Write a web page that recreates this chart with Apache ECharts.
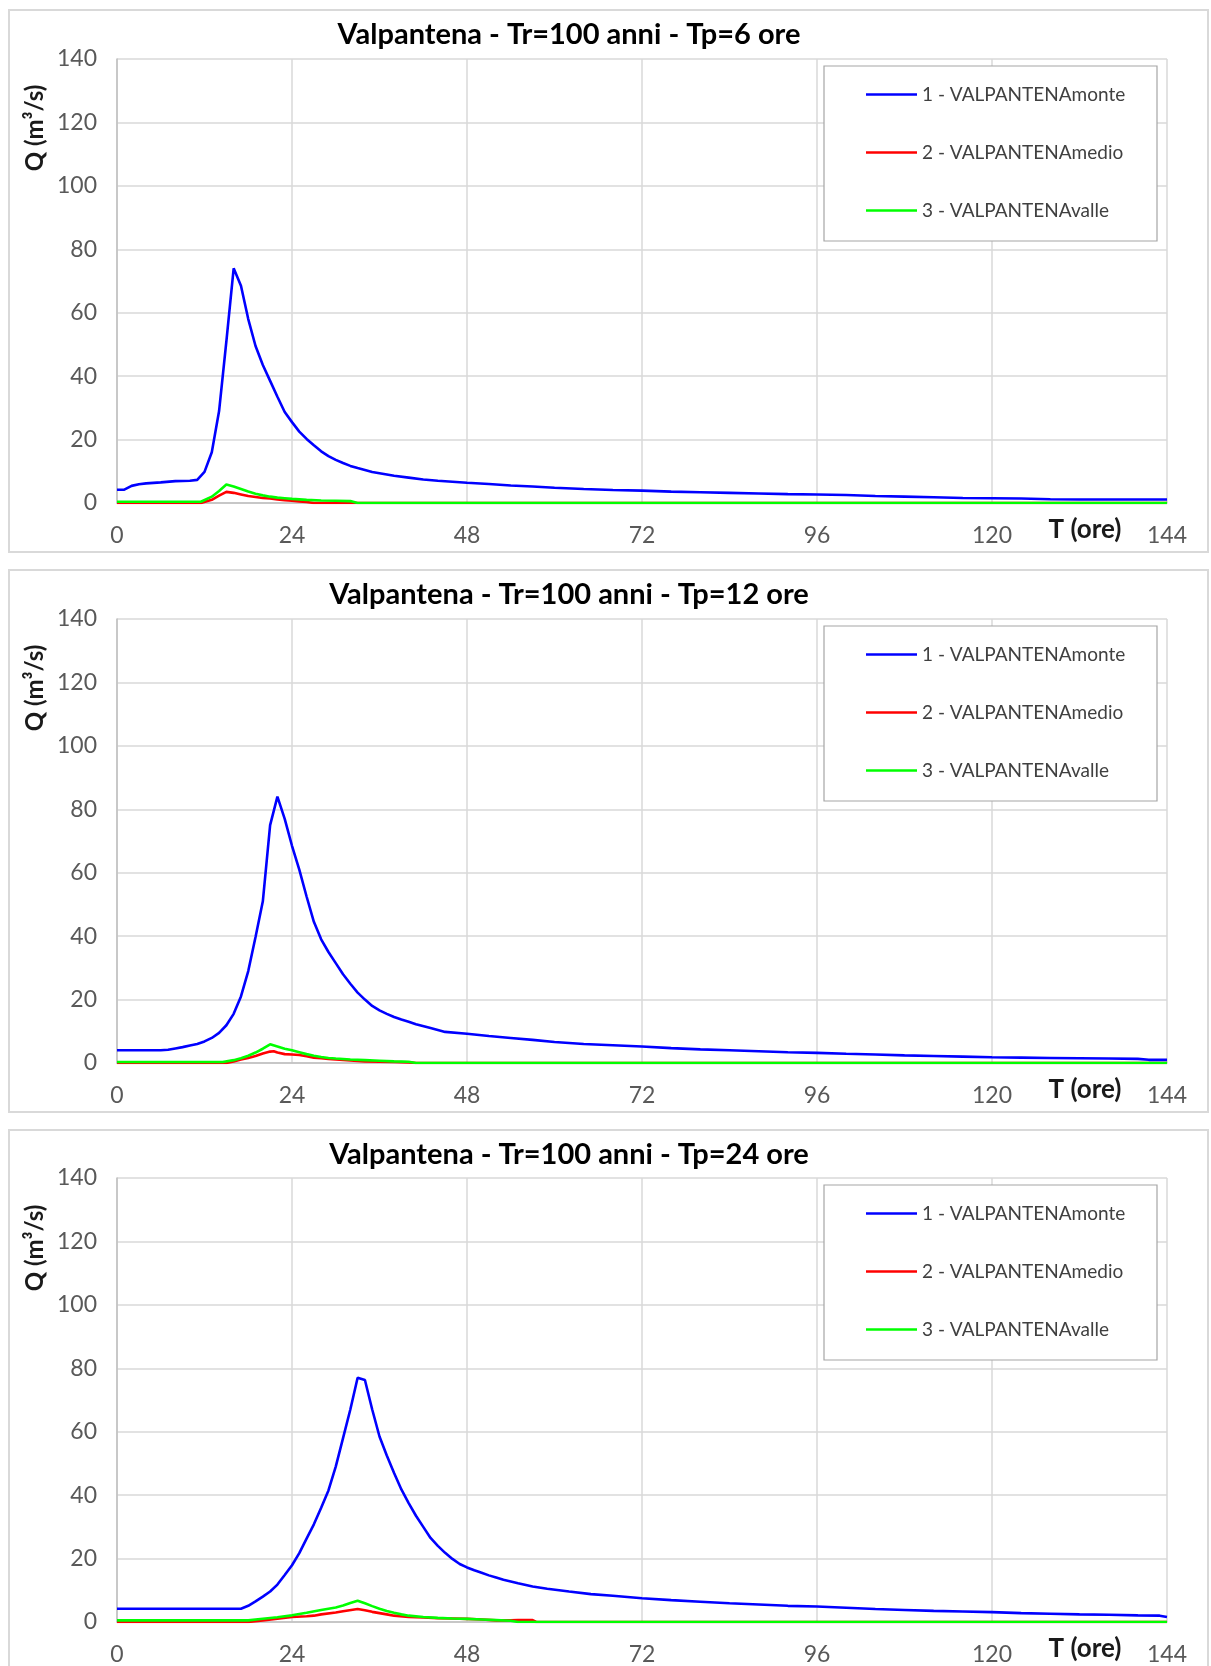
<!DOCTYPE html>
<html>
<head>
<meta charset="utf-8">
<script src="https://cdn.jsdelivr.net/npm/echarts@6/dist/echarts.min.js"></script>
<style>
html,body{margin:0;padding:0;background:#fff;}
#chart{width:1211px;height:1666px;}
</style>
</head>
<body>
<div id="chart"></div>
<script>
// ---- DATA (t in hours, Q in m3/s) ----
const seriesNames = ['1 - VALPANTENAmonte', '2 - VALPANTENAmedio', '3 - VALPANTENAvalle'];
const titles = [
  'Valpantena - Tr=100 anni - Tp=6 ore',
  'Valpantena - Tr=100 anni - Tp=12 ore',
  'Valpantena - Tr=100 anni - Tp=24 ore'
];
const xTicks = [0, 24, 48, 72, 96, 120, 144];
const yTicks = [0, 20, 40, 60, 80, 100, 120, 140];

const tp6Monte = [[0,4.2],[1,4.2],[2,5.4],[3,5.9],[4,6.2],[6,6.5],[8,6.9],[10,7.0],[11,7.3],[12,9.8],[13,16],[14,29],[15,51],[16,74],[17,68.5],[18,58],[19,49.5],[20,43.5],[21,38.5],[22,33.5],[23,28.7],[24,25.5],[25,22.5],[26,20.2],[27,18.2],[28,16.3],[29,14.8],[30,13.6],[31,12.6],[32,11.7],[33,11.0],[34,10.4],[35,9.8],[36,9.4],[38,8.6],[40,8.0],[42,7.4],[44,7.0],[46,6.7],[48,6.4],[51,6.0],[54,5.5],[57,5.2],[60,4.8],[64,4.4],[68,4.1],[72,3.9],[76,3.6],[80,3.4],[84,3.2],[88,3.0],[92,2.8],[96,2.7],[100,2.5],[104,2.2],[108,2.0],[112,1.8],[116,1.6],[120,1.5],[124,1.4],[128,1.2],[132,1.1],[144,1.1]];
const tp6Medio = [[0,0],[11.5,0],[13,1.0],[14,2.3],[15,3.5],[16,3.2],[17,2.7],[18,2.2],[19,1.9],[20,1.6],[21,1.4],[22,1.1],[23,0.9],[24,0.7],[25,0.5],[26,0.3],[27,0],[144,0]];
const tp6Valle = [[0,0.4],[11.5,0.4],[13,2.0],[14,3.8],[15,5.8],[16,5.2],[17,4.4],[18,3.6],[19,2.9],[20,2.4],[21,2.0],[22,1.7],[23,1.5],[24,1.3],[26,1.0],[28,0.8],[30,0.7],[32,0.6],[33,0],[144,0]];

const tp12Monte = [[0,4.0],[6,4.0],[7,4.2],[8,4.6],[9,5.0],[10,5.5],[11,6.0],[12,6.8],[13,7.9],[14,9.5],[15,11.9],[16,15.5],[17,21],[18,29],[19,39.7],[20,51],[21,75],[22,84],[23,77],[24,68.5],[25,61],[26,52.5],[27,44.5],[28,39],[29,35],[30,31.5],[31,28],[32,25],[33,22.2],[34,20],[35,18],[36,16.6],[37,15.5],[38,14.5],[39,13.7],[40,13],[41,12.2],[43,11],[45,9.8],[48,9.2],[51,8.5],[54,7.9],[57,7.3],[60,6.6],[64,6.0],[68,5.6],[72,5.2],[76,4.7],[80,4.3],[84,4.0],[88,3.7],[92,3.4],[96,3.2],[100,2.9],[104,2.7],[108,2.4],[112,2.2],[116,2.0],[120,1.8],[124,1.7],[128,1.6],[132,1.5],[136,1.4],[140,1.3],[141.5,1.0],[144,1.0]];
const tp12Medio = [[0,0],[15,0],[16,0.5],[17,1.1],[18,1.6],[19,2.2],[20,3.0],[21,3.6],[21.5,3.7],[22,3.3],[23,2.8],[24,2.7],[25,2.5],[26,2.1],[27,1.7],[28,1.5],[29,1.3],[30,1.1],[32,0.8],[34,0.5],[36,0.4],[38,0.3],[40,0.2],[41,0],[144,0]];
const tp12Valle = [[0,0.3],[14.5,0.3],[16,0.9],[17,1.5],[18,2.3],[19,3.3],[20,4.5],[21,5.9],[22,5.2],[23,4.5],[24,4.0],[25,3.4],[26,2.8],[27,2.3],[28,1.9],[29,1.6],[30,1.4],[32,1.1],[34,0.9],[36,0.7],[38,0.5],[40,0.4],[41,0],[144,0]];

const tp24Monte = [[0,4.2],[17,4.2],[18,5.1],[19,6.5],[20,8.0],[21,9.6],[22,11.8],[23,14.8],[24,17.9],[25,21.7],[26,26.3],[27,30.8],[28,36],[29,41.5],[30,49],[31,58],[32,67],[33,77],[34,76.3],[35,67],[36,58.5],[37,52.5],[38,47],[39,41.8],[40,37.5],[41,33.5],[42,30],[43,26.5],[44,24],[45,21.8],[46,19.9],[47,18.3],[48,17.2],[49,16.3],[50,15.5],[51,14.7],[52,14],[53,13.3],[55,12.2],[57,11.2],[59,10.5],[62,9.6],[65,8.8],[68,8.3],[72,7.5],[76,6.9],[80,6.4],[84,5.9],[88,5.5],[92,5.1],[96,4.9],[100,4.5],[104,4.1],[108,3.8],[112,3.5],[116,3.3],[120,3.1],[124,2.8],[128,2.6],[132,2.4],[136,2.3],[140,2.1],[143,2.0],[144,1.6]];
const tp24Medio = [[0,0],[18,0],[20,0.5],[22,1.0],[24,1.6],[26,1.8],[27,2.0],[28,2.4],[30,3.0],[31,3.4],[33,4.1],[34,3.7],[35,3.2],[36,2.8],[37,2.4],[38,2.0],[40,1.6],[42,1.4],[44,1.2],[46,1.1],[48,1.0],[50,0.8],[52,0.5],[54,0.5],[55,0.6],[57,0.6],[57.5,0],[144,0]];
const tp24Valle = [[0,0.5],[18,0.5],[20,1.0],[22,1.5],[24,2.1],[26,2.9],[28,3.8],[30,4.6],[31,5.2],[32,6.0],[33,6.7],[34,5.9],[35,5.0],[36,4.2],[37,3.5],[38,2.9],[39,2.4],[40,2.0],[42,1.6],[44,1.3],[46,1.1],[48,1.0],[50,0.8],[52,0.6],[54,0.4],[55,0],[144,0]];

const panelData = [
  [tp6Monte, tp6Medio, tp6Valle],
  [tp12Monte, tp12Medio, tp12Valle],
  [tp24Monte, tp24Medio, tp24Valle]
];
const colors = ['#0000ff', '#ff0000', '#00ff00'];

// ---- LAYOUT ----
const FONT = 'Lato, "Open Sans", sans-serif';
const panelTops = [10, 570, 1130];
const gridTops = [59, 619, 1178];
const GRID_LEFT = 117, GRID_W = 1050, GRID_H = 444;

const chart = echarts.init(document.getElementById('chart'), null, {renderer: 'canvas'});

const option = {
  backgroundColor: '#ffffff',
  animation: false,
  title: [], grid: [], xAxis: [], yAxis: [], series: [], legend: [], graphic: []
};

for (let p = 0; p < 3; p++) {
  const off = panelTops[p] - panelTops[0];
  const goff = gridTops[p] - gridTops[0];
  option.title.push({
    text: titles[p], left: 569, top: 35 + off, textAlign: 'center', textVerticalAlign: 'middle', padding: 0,
    textStyle: {fontFamily: FONT, fontSize: 29, fontWeight: 'bold', color: '#000000'}
  });
  option.grid.push({left: GRID_LEFT, top: gridTops[p], width: GRID_W, height: GRID_H, containLabel: false});
  option.xAxis.push({
    type: 'value', gridIndex: p, min: xTicks[0], max: xTicks[xTicks.length - 1], interval: 24,
    axisLine: {show: true, onZero: false, lineStyle: {color: '#bfbfbf', width: 1.5}},
    axisTick: {show: false},
    splitLine: {show: true, lineStyle: {color: '#d9d9d9', width: 1.5}},
    axisLabel: {margin: 21, fontFamily: FONT, fontSize: 23, color: '#595959',
      formatter: v => xTicks.indexOf(v) >= 0 ? String(v) : ''}
  });
  option.yAxis.push({
    type: 'value', gridIndex: p, min: yTicks[0], max: yTicks[yTicks.length - 1], interval: 20,
    axisLine: {show: true, lineStyle: {color: '#bfbfbf', width: 1.5}},
    axisTick: {show: false},
    splitLine: {show: true, lineStyle: {color: '#d9d9d9', width: 1.5}},
    axisLabel: {margin: 20, fontFamily: FONT, fontSize: 23, color: '#595959'}
  });
  for (let s = 0; s < 3; s++) {
    option.series.push({
      name: seriesNames[s], type: 'line', xAxisIndex: p, yAxisIndex: p,
      data: panelData[p][s], showSymbol: false, symbol: 'none', smooth: false,
      lineStyle: {color: colors[s], width: 2.6}, itemStyle: {color: colors[s]},
      z: 2 + (s === 0 ? 0.2 : (s === 2 ? 0.1 : 0))
    });
  }
  const legTop = 66 + goff;
  option.legend.push({
    data: seriesNames, orient: 'vertical', left: 866, top: legTop + 18.5, padding: 0,
    icon: 'rect', itemWidth: 51, itemHeight: 2.5, itemGap: 38, z: 6,
    textStyle: {fontFamily: FONT, fontSize: 19, color: '#404040', lineHeight: 20}
  });
  // panel frame
  option.graphic.push({
    type: 'rect', z: 0, silent: true,
    shape: {x: 9, y: panelTops[p], width: 1199, height: 542},
    style: {fill: 'none', stroke: '#d9d9d9', lineWidth: 2}
  });
  // legend box
  option.graphic.push({
    type: 'rect', z: 5, silent: true,
    shape: {x: 824, y: legTop, width: 333, height: 175},
    style: {fill: '#ffffff', stroke: '#a6a6a6', lineWidth: 1.2}
  });
  // y axis name
  option.graphic.push({
    type: 'text', z: 5, silent: true, x: 35, y: 128 + off, rotation: Math.PI / 2,
    style: {text: 'Q (m³/s)', font: 'bold 24px ' + FONT, fill: '#1a1a1a', align: 'center', verticalAlign: 'middle'}
  });
  // x axis name
  option.graphic.push({
    type: 'text', z: 5, silent: true, x: 1085, y: 530 + goff,
    style: {text: 'T (ore)', font: 'bold 26px ' + FONT, fill: '#1a1a1a', align: 'center', verticalAlign: 'middle'}
  });
}

chart.setOption(option);
</script>
</body>
</html>
